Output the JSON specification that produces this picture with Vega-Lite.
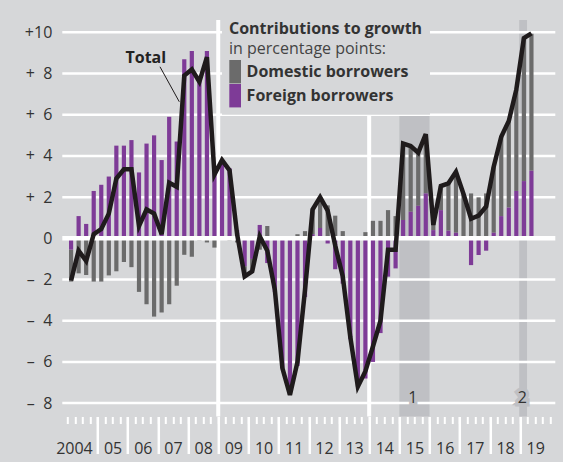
{
  "$schema": "https://vega.github.io/schema/vega-lite/v6.json",
  "width": 493,
  "height": 396.5,
  "autosize": "none",
  "padding": {"left": 62.3, "top": 20, "right": 7.7, "bottom": 45.5},
  "background": "#d6d7d9",
  "config": {"view": {"stroke": null}, "font": "Open Sans"},
  "title": {"text": "in percentage points:", "anchor": "start", "frame": "group", "orient": "top", "offset": 0, "dx": 166.7, "dy": 56, "fontSize": 16, "fontWeight": "normal", "color": "#444444", "baseline": "alphabetic", "font": "Open Sans"},
  "datasets": {
    "credit": [
      {"t": 2004.125, "d": -1.55, "f": -0.55, "total": -2.05},
      {"t": 2004.375, "d": -1.7, "f": 1.08, "total": -0.6},
      {"t": 2004.625, "d": -1.78, "f": 0.7, "total": -1.1},
      {"t": 2004.875, "d": -2.1, "f": 2.3, "total": 0.2},
      {"t": 2005.125, "d": -2.1, "f": 2.6, "total": 0.45},
      {"t": 2005.375, "d": -1.8, "f": 3.0, "total": 1.2},
      {"t": 2005.625, "d": -1.6, "f": 4.5, "total": 2.9},
      {"t": 2005.875, "d": -1.15, "f": 4.5, "total": 3.35},
      {"t": 2006.125, "d": -1.4, "f": 4.77, "total": 3.35},
      {"t": 2006.375, "d": -2.6, "f": 3.2, "total": 0.6},
      {"t": 2006.625, "d": -3.2, "f": 4.6, "total": 1.4},
      {"t": 2006.875, "d": -3.8, "f": 5.0, "total": 1.2},
      {"t": 2007.125, "d": -3.6, "f": 3.8, "total": 0.2},
      {"t": 2007.375, "d": -3.2, "f": 5.9, "total": 2.7},
      {"t": 2007.625, "d": -2.3, "f": 4.7, "total": 2.5},
      {"t": 2007.875, "d": -0.8, "f": 8.7, "total": 7.9},
      {"t": 2008.125, "d": -0.9, "f": 9.1, "total": 8.2},
      {"t": 2008.375, "d": -0.1, "f": 7.8, "total": 7.6},
      {"t": 2008.625, "d": -0.2, "f": 9.1, "total": 8.8},
      {"t": 2008.875, "d": -0.45, "f": 3.5, "total": 3.1},
      {"t": 2009.125, "d": 0.1, "f": 3.7, "total": 3.8},
      {"t": 2009.375, "d": -0.1, "f": 3.4, "total": 3.3},
      {"t": 2009.625, "d": -0.2, "f": 0.4, "total": 0.2},
      {"t": 2009.875, "d": -0.5, "f": -1.35, "total": -1.85},
      {"t": 2010.125, "d": -0.6, "f": -1.0, "total": -1.6},
      {"t": 2010.375, "d": -0.55, "f": 0.65, "total": 0.1},
      {"t": 2010.625, "d": 0.6, "f": -1.2, "total": -0.6},
      {"t": 2010.875, "d": 0.1, "f": -2.6, "total": -2.5},
      {"t": 2011.125, "d": 0.0, "f": -6.3, "total": -6.3},
      {"t": 2011.375, "d": -0.3, "f": -7.3, "total": -7.6},
      {"t": 2011.625, "d": 0.2, "f": -6.2, "total": -6.0},
      {"t": 2011.875, "d": 0.35, "f": -2.85, "total": -2.5},
      {"t": 2012.125, "d": 1.2, "f": 0.2, "total": 1.4},
      {"t": 2012.375, "d": 1.5, "f": 0.5, "total": 2.0},
      {"t": 2012.625, "d": 1.6, "f": -0.25, "total": 1.35},
      {"t": 2012.875, "d": 1.1, "f": -1.5, "total": -0.35},
      {"t": 2013.125, "d": 0.35, "f": -2.2, "total": -1.85},
      {"t": 2013.375, "d": 0.1, "f": -4.9, "total": -4.8},
      {"t": 2013.625, "d": -0.2, "f": -7.0, "total": -7.2},
      {"t": 2013.875, "d": 0.3, "f": -6.8, "total": -6.45},
      {"t": 2014.125, "d": 0.85, "f": -6.0, "total": -5.25},
      {"t": 2014.375, "d": 0.85, "f": -4.6, "total": -4.0},
      {"t": 2014.625, "d": 1.37, "f": -1.86, "total": -0.55},
      {"t": 2014.875, "d": 1.08, "f": -1.46, "total": -0.55},
      {"t": 2015.125, "d": 3.7, "f": 0.89, "total": 4.6},
      {"t": 2015.375, "d": 3.2, "f": 1.29, "total": 4.48},
      {"t": 2015.625, "d": 2.58, "f": 1.58, "total": 4.16},
      {"t": 2015.875, "d": 2.88, "f": 2.18, "total": 5.06},
      {"t": 2016.125, "d": 0.33, "f": 0.4, "total": 0.65},
      {"t": 2016.375, "d": 1.17, "f": 1.37, "total": 2.54},
      {"t": 2016.625, "d": 2.3, "f": 0.37, "total": 2.67},
      {"t": 2016.875, "d": 2.96, "f": 0.27, "total": 3.23},
      {"t": 2017.125, "d": 2.1, "f": 0.05, "total": 2.15},
      {"t": 2017.375, "d": 2.18, "f": -1.3, "total": 0.95},
      {"t": 2017.625, "d": 1.99, "f": -0.81, "total": 1.1},
      {"t": 2017.875, "d": 2.18, "f": -0.6, "total": 1.55},
      {"t": 2018.125, "d": 3.2, "f": 0.27, "total": 3.48},
      {"t": 2018.375, "d": 3.85, "f": 1.08, "total": 4.93},
      {"t": 2018.625, "d": 4.17, "f": 1.49, "total": 5.7},
      {"t": 2018.875, "d": 4.93, "f": 2.3, "total": 7.23},
      {"t": 2019.125, "d": 6.95, "f": 2.78, "total": 9.72},
      {"t": 2019.375, "d": 6.65, "f": 3.28, "total": 9.95}
    ],
    "shading": [
      {"x1": 2015.0, "x2": 2016.0, "ylo": -8.65, "yhi": 9.4},
      {"x1": 2018.97, "x2": 2019.23, "ylo": -8.65, "yhi": 10.6}
    ],
    "grid": [{"g": -8}, {"g": -6}, {"g": -4}, {"g": -2}, {"g": 2}, {"g": 4}, {"g": 6}, {"g": 8}, {"g": 10}],
    "breaks": [{"yr": 2009}, {"yr": 2014}],
    "notes": [{"x": 2015.45, "label": "1"}, {"x": 2019.07, "label": "2"}]
  },
  "resolve": {"axis": {"x": "independent", "y": "independent"}},
  "layer": [
    {
      "data": {"name": "shading"},
      "mark": {"type": "rect", "color": "#bfc0c4"},
      "encoding": {
        "x": {"field": "x1", "type": "quantitative", "scale": {"domain": [2004, 2020], "nice": false, "zero": false},
          "axis": {"orient": "bottom", "values": [2004, 2004.25, 2004.5, 2004.75, 2005, 2005.25, 2005.5, 2005.75, 2006, 2006.25, 2006.5, 2006.75, 2007, 2007.25, 2007.5, 2007.75, 2008, 2008.25, 2008.5, 2008.75, 2009, 2009.25, 2009.5, 2009.75, 2010, 2010.25, 2010.5, 2010.75, 2011, 2011.25, 2011.5, 2011.75, 2012, 2012.25, 2012.5, 2012.75, 2013, 2013.25, 2013.5, 2013.75, 2014, 2014.25, 2014.5, 2014.75, 2015, 2015.25, 2015.5, 2015.75, 2016, 2016.25, 2016.5, 2016.75, 2017, 2017.25, 2017.5, 2017.75, 2018, 2018.25, 2018.5, 2018.75, 2019, 2019.25, 2019.5, 2019.75, 2020],
            "labels": false, "domain": false, "grid": false, "ticks": true, "tickSize": 7, "tickWidth": 2, "tickColor": "#ffffff", "title": null}},
        "x2": {"field": "x2"},
        "y": {"field": "ylo", "type": "quantitative", "scale": {"domain": [-8.65, 10.6], "nice": false, "zero": false},
          "axis": {"orient": "left", "values": [-8, -6, -4, -2, 0, 2, 4, 6, 8, 10], "grid": false, "ticks": false, "domain": false, "labelPadding": 10.5, "labelFontSize": 16, "labelFont": "Open Sans", "labelColor": "#333333",
            "labelExpr": "datum.value > 9 ? '+10' : datum.value > 0 ? '+\u00a0\u00a0' + datum.value : datum.value < 0 ? '\u2013\u00a0\u00a0' + abs(datum.value) : '0'", "title": null}},
        "y2": {"field": "yhi"}
      }
    },
    {
      "data": {"name": "grid"},
      "mark": {"type": "rule", "color": "#ffffff", "strokeWidth": 2.5},
      "encoding": {"y": {"field": "g", "type": "quantitative", "scale": {"domain": [-8.65, 10.6], "nice": false, "zero": false}, "axis": null}}
    },
    {
      "data": {"name": "notes"},
      "mark": {"type": "text", "fontSize": 16, "font": "Open Sans", "baseline": "alphabetic", "align": "center", "stroke": "#bfc0c4", "strokeWidth": 7, "fill": "#bfc0c4"},
      "encoding": {
        "x": {"field": "x", "type": "quantitative", "axis": null},
        "y": {"datum": -8, "type": "quantitative", "axis": null},
        "text": {"field": "label"}
      }
    },
    {
      "data": {"name": "breaks"},
      "mark": {"type": "rule", "color": "#ffffff", "strokeWidth": 4},
      "encoding": {
        "x": {"field": "yr", "type": "quantitative", "scale": {"domain": [2004, 2020], "nice": false, "zero": false},
          "axis": {"orient": "bottom", "values": [2004, 2005, 2006, 2007, 2008, 2009, 2010, 2011, 2012, 2013, 2014, 2015, 2016, 2017, 2018, 2019],
            "labels": false, "domain": false, "grid": false, "ticks": true, "tickSize": 37, "tickWidth": 2.5, "tickColor": "#ffffff",
            "tickOpacity": {"condition": {"test": "datum.value < 2004.5", "value": 0}, "value": 1}, "title": null}}
      }
    },
    {
      "data": {"name": "credit"},
      "transform": [{"fold": ["d", "f"], "as": ["key", "value"]}],
      "mark": {"type": "bar", "size": 4.2},
      "encoding": {
        "x": {"field": "t", "type": "quantitative", "scale": {"domain": [2004, 2020], "nice": false, "zero": false}, "axis": null},
        "y": {"field": "value", "type": "quantitative", "stack": "zero", "scale": {"domain": [-8.65, 10.6], "nice": false, "zero": false}, "axis": null},
        "color": {"field": "key", "type": "nominal",
          "scale": {"domain": ["d", "f"], "range": ["#6b6b6b", "#7e3b97"]},
          "legend": {"orient": "none", "legendX": 159.7, "legendY": -6.3, "direction": "vertical",
            "title": "Contributions to growth", "titleFontSize": 16, "titleFontWeight": "bold", "titleColor": "#333333", "titleFont": "Open Sans", "titlePadding": 23, "titleLimit": 400,
            "padding": 7, "fillColor": "#d6d7d9", "strokeColor": null,
            "symbolType": "M-1,-1H0V1H-1Z", "symbolSize": 548, "symbolStrokeWidth": 0, "symbolOpacity": 1,
            "labelFontSize": 16, "labelFontWeight": "bold", "labelColor": "#333333", "labelFont": "Open Sans", "labelOffset": -6.4, "rowPadding": 0, "labelLimit": 400,
            "labelExpr": "datum.label == 'd' ? 'Domestic borrowers' : 'Foreign borrowers'"}},
        "order": {"field": "key", "sort": "descending"}
      }
    },
    {
      "data": {"values": [{}]},
      "mark": {"type": "rule", "color": "#ffffff", "strokeWidth": 4.5},
      "encoding": {"y": {"datum": 0, "type": "quantitative", "axis": null}}
    },
    {
      "data": {"name": "credit"},
      "mark": {"type": "line", "color": "#1f1b1c", "strokeWidth": 4.5, "strokeJoin": "miter"},
      "encoding": {
        "x": {"field": "t", "type": "quantitative", "scale": {"domain": [2004, 2020], "nice": false, "zero": false},
          "axis": {"orient": "bottom", "values": [2004.22, 2005.5, 2006.5, 2007.5, 2008.5, 2009.5, 2010.5, 2011.5, 2012.5, 2013.5, 2014.5, 2015.5, 2016.5, 2017.5, 2018.5, 2019.5],
            "ticks": false, "domain": false, "grid": false, "labelPadding": 24, "labelFontSize": 16, "labelFont": "Open Sans", "labelColor": "#333333",
            "labelExpr": "datum.value < 2005 ? '2004' : slice(format(floor(datum.value), 'd'), 2)", "title": null}},
        "y": {"field": "total", "type": "quantitative", "scale": {"domain": [-8.65, 10.6], "nice": false, "zero": false}, "axis": null}
      }
    },
    {
      "data": {"values": [{}]},
      "mark": {"type": "rule", "color": "#1f1b1c", "strokeWidth": 1},
      "encoding": {
        "x": {"datum": 2007.07, "type": "quantitative", "axis": null},
        "y": {"datum": 8.33, "type": "quantitative", "axis": null},
        "x2": {"datum": 2007.71},
        "y2": {"datum": 6.63}
      }
    },
    {
      "data": {"values": [{}]},
      "mark": {"type": "text", "text": "Total", "fontSize": 16, "fontWeight": "bold", "font": "Open Sans", "color": "#222222", "align": "center", "baseline": "alphabetic"},
      "encoding": {
        "x": {"datum": 2006.6, "type": "quantitative", "axis": null},
        "y": {"datum": 8.5, "type": "quantitative", "axis": null}
      }
    },
    {
      "data": {"name": "notes"},
      "mark": {"type": "text", "fontSize": 16, "font": "Open Sans", "baseline": "alphabetic", "align": "center", "color": "#333333"},
      "encoding": {
        "x": {"field": "x", "type": "quantitative", "axis": null},
        "y": {"datum": -8, "type": "quantitative", "axis": null},
        "text": {"field": "label"}
      }
    }
  ]
}
